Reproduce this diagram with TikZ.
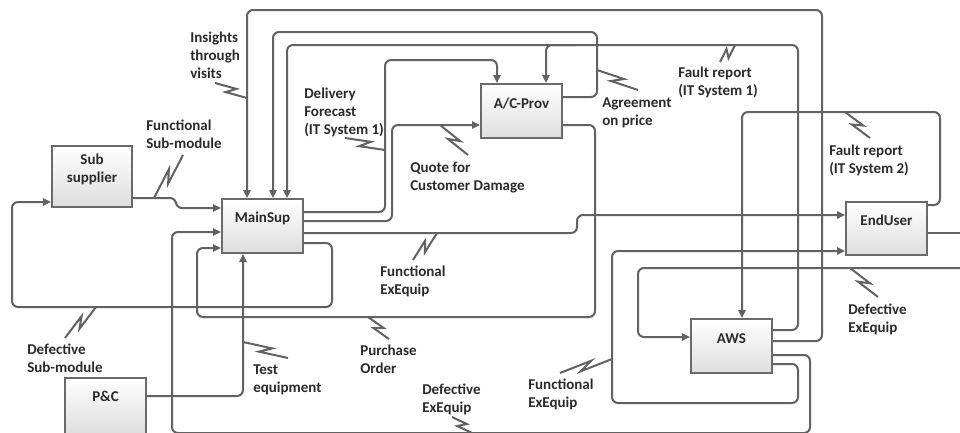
\documentclass[tikz,border=0pt]{standalone}
\usepackage{fontspec}
\setmainfont{Carlito}
\usetikzlibrary{arrows.meta,calc}
\definecolor{ln}{HTML}{626262}
\definecolor{bx}{HTML}{6A6A6A}
\definecolor{tx}{HTML}{2A2A2A}
\newcommand{\mylbl}[1]{\begin{tabular}[t]{@{}l@{}}#1\end{tabular}}
\newcommand{\myctr}[1]{\begin{tabular}[t]{@{}c@{}}#1\end{tabular}}
\newcommand{\bolt}[2]{\draw[boltline] (#1) -- ($(#1)!0.62!(#2)!2.8pt!90:(#2)$) -- ($(#1)!0.38!(#2)!2.8pt!-90:(#2)$) -- (#2);}
\begin{document}
\begin{tikzpicture}[x=0.75pt,y=-0.75pt,
  conn/.style={draw=ln, line width=1.5pt, rounded corners=4.5pt},
  arr/.style={conn, -{Triangle[length=6pt,width=5.5pt]}},
  boltline/.style={draw=ln, line width=1.5pt},
  box/.style={draw=bx, line width=1.5pt, top color=white, bottom color=black!13, minimum width=60.75pt, minimum height=40.5pt, inner sep=0pt},
  txt/.style={text=tx, font=\fontsize{11.25}{13.5}\selectfont\bfseries, inner sep=0pt},
]
\useasboundingbox (0,0) rectangle (960,432);
\fill[white] (0,0) rectangle (960,432);

% boxes
\node[box, minimum width=60pt, minimum height=45.75pt] (ss) at (92,176.5) {};
\node[box] (ms) at (262.5,226) {};
\node[box] (ac) at (521.5,111) {};
\node[box, minimum height=39.75pt] (eu) at (886.5,228.5) {};
\node[box] (aws) at (731.5,346) {};
\node[box, minimum height=42pt] (pc) at (105.5,406) {};

\node[txt, anchor=base] (sst) at (92,164) {\myctr{Sub\\supplier}};
\node[txt, anchor=base] (mst) at (262.5,222) {MainSup};
\node[txt, anchor=base] (act) at (521.5,108) {A/C-Prov};
\node[txt, anchor=base] (eut) at (886.5,225) {EndUser};
\node[txt, anchor=base] (awst) at (731.5,343) {AWS};
\node[txt, anchor=base] (pct) at (105.5,401) {P\&C};

\coordinate (rin) at (960,268);
\coordinate (rout) at (960,233);

% connectors
\draw[arr] (ss.east |- 0,198) -- (176,198) -- (176,208) -- (ms.west |- 0,208);
\draw[arr] (aws.east |- 0,341) -- (822,341) -- (822,10) -- (247,10) -- (247,0 |- ms.north);
\draw[arr] (ac.east |- 0,97) -- (597,97) -- (597,32) -- (273,32) -- (273,0 |- ms.north);
\draw[arr] (aws.east |- 0,330) -- (798,330) -- (798,45) -- (287,45) -- (287,0 |- ms.north);
\draw[arr] (575,45) -- (546,45) -- (546,0 |- ac.north);
\draw[arr] (ms.east |- 0,212) -- (385,212) -- (385,60) -- (497,60) -- (497,0 |- ac.north);
\draw[arr] (ms.east |- 0,221) -- (392,221) -- (392,125) -- (ac.west |- 0,125);
\draw[arr] (ms.east |- 0,233) -- (577,233) -- (577,215) -- (eu.west |- 0,215);
\draw[arr] (ms.east |- 0,243) -- (332,243) -- (332,307) -- (12,307) -- (12,202) -- (ss.west |- 0,202);
\draw[arr] (ac.east |- 0,125) -- (595,125) -- (595,317) -- (197,317) -- (197,248) -- (ms.west |- 0,248);
\draw[arr] (aws.east |- 0,355) -- (810,355) -- (810,433) -- (172,433) -- (172,232) -- (ms.west |- 0,232);
\draw[arr] (aws.east |- 0,364) -- (798,364) -- (798,403) -- (612,403) -- (612,251) -- (eu.west |- 0,251);
\draw[arr] (eu.east |- 0,205) -- (940,205) -- (940,112) -- (742,112) -- (742,0 |- aws.north);
\draw[conn] (eu.east |- 0,233) -- (rout);
\draw[arr] (rin) -- (638,268) -- (638,337) -- (aws.west |- 0,337);
\draw[arr] (pc.east |- 0,396) -- (243,396) -- (243,0 |- ms.south);

% bolts
\bolt{154,198}{183,155}
\bolt{247,98}{215,83}
\bolt{385,150}{345,138}
\bolt{440,125}{468,155}
\bolt{597,70}{638,90}
\bolt{735,45}{720,62}
\bolt{845,112}{870,138}
\bolt{437,233}{413,260}
\bolt{96,307}{65,338}
\bolt{243,342}{288,358}
\bolt{368,317}{389,339}
\bolt{472,433}{452,417}
\bolt{612,359}{560,373}
\bolt{850,268}{878,297}

% labels
\node[txt, anchor=base west] (l1) at (190,42) {\mylbl{Insights\\through\\visits}};
\node[txt, anchor=base west] (l2) at (146,130) {\mylbl{Functional\\Sub-module}};
\node[txt, anchor=base west] (l3) at (304,98) {\mylbl{Delivery\\Forecast\\(IT System 1)}};
\node[txt, anchor=base west] (l4) at (410,172) {\mylbl{Quote for\\Customer Damage}};
\node[txt, anchor=base west] (l5) at (602,107) {\mylbl{Agreement\\on price}};
\node[txt, anchor=base west] (l6) at (678,77) {\mylbl{Fault report\\(IT System 1)}};
\node[txt, anchor=base west] (l7) at (829,155) {\mylbl{Fault report\\(IT System 2)}};
\node[txt, anchor=base west] (l8) at (380,276) {\mylbl{Functional\\ExEquip}};
\node[txt, anchor=base west] (l9) at (27,354) {\mylbl{Defective\\Sub-module}};
\node[txt, anchor=base west] (l10) at (253,374) {\mylbl{Test\\equipment}};
\node[txt, anchor=base west] (l11) at (360,355) {\mylbl{Purchase\\Order}};
\node[txt, anchor=base west] (l12) at (422,394) {\mylbl{Defective\\ExEquip}};
\node[txt, anchor=base west] (l13) at (528,389) {\mylbl{Functional\\ExEquip}};
\node[txt, anchor=base west] (l14) at (848,314) {\mylbl{Defective\\ExEquip}};
\end{tikzpicture}
\end{document}
